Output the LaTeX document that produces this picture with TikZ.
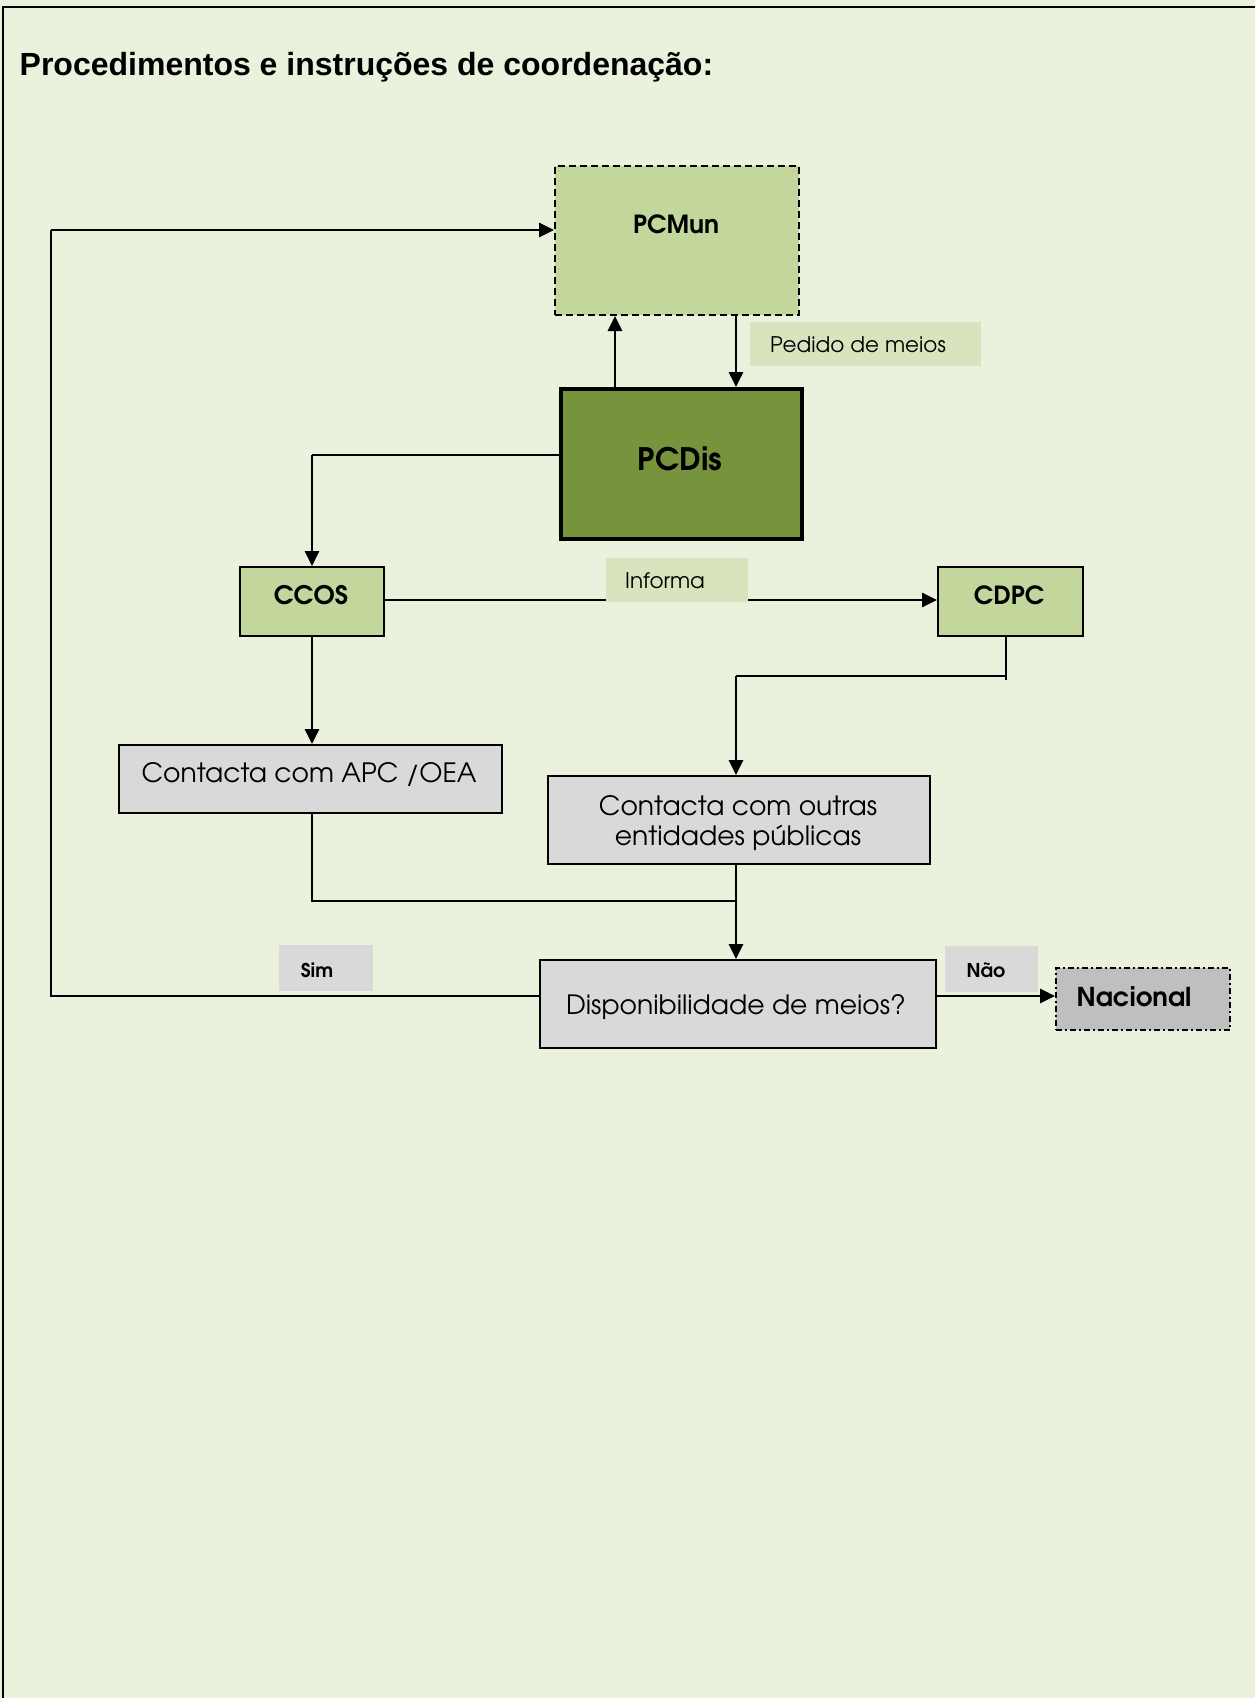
\documentclass[tikz,border=0pt]{standalone}
\usepackage{fontspec}
\usetikzlibrary{arrows.meta}
\newfontfamily\gothic{texgyreadventor}[Extension=.otf,UprightFont=*-regular,BoldFont=*-bold]
\newfontfamily\arialfont{Liberation Sans}
\definecolor{pagebg}{HTML}{EAF1DD}
\definecolor{lightolive}{HTML}{C3D69B}
\definecolor{paleolive}{HTML}{D7E4BD}
\definecolor{darkolive}{HTML}{77933C}
\definecolor{boxgrey}{HTML}{D9D9D9}
\definecolor{darkgrey}{HTML}{BFBFBF}
\newcommand{\fs}[1]{\fontsize{#1}{#1}\selectfont}
\tikzset{
  box/.style={draw=black, line width=1.8pt, inner sep=0pt, anchor=north west},
  tag/.style={fill=#1, inner sep=0pt, anchor=north west},
  txt/.style={inner sep=0pt, font=\gothic},
  thin/.style={line width=1.4pt},
  thick/.style={line width=2.9pt},
  tip/.style={-{Triangle[length=15pt,width=14pt]}},
}
\begin{document}
\begin{tikzpicture}[x=1pt,y=-1pt]
  % page and frame
  \fill[pagebg] (0,0) rectangle (1255,1698);
  \useasboundingbox (0,0) rectangle (1255,1698);
  \draw[line width=2pt] (3,1698) -- (3,6.5) -- (1255,6.5);

  \node[inner sep=0pt, anchor=west, font=\arialfont\bfseries\fs{32}] (title) at (19.5,67)
    {Procedimentos e instruções de coordenação:};

  % boxes
  \node[box, fill=lightolive, dash pattern=on 7pt off 4pt, line width=2pt,
        minimum width=244pt, minimum height=149pt] (pcmun) at (554,165) {};
  \node[txt, font=\gothic\bfseries\fs{25}] (pcmunT) at (676,224) {PCMun};

  \node[box, fill=darkolive, line width=3.5pt,
        minimum width=241pt, minimum height=150pt] (pcdis) at (559,387) {};
  \node[txt, font=\gothic\bfseries\fs{31}] (pcdisT) at (680,459) {PCDis};

  \node[tag=paleolive, minimum width=231pt, minimum height=44pt] (pedido) at (750,322) {};
  \node[txt, anchor=west, font=\gothic\fs{21.5}] (pedidoT) at (770,345) {Pedido de meios};

  \node[box, fill=lightolive, minimum width=144pt, minimum height=69pt] (ccos) at (239,566) {};
  \node[txt, font=\gothic\bfseries\fs{25.5}] (ccosT) at (311,595) {CCOS};

  \node[box, fill=lightolive, minimum width=145pt, minimum height=69pt] (cdpc) at (937,566) {};
  \node[txt, font=\gothic\bfseries\fs{25}] (cdpcT) at (1009,595) {CDPC};

  \node[box, fill=boxgrey, minimum width=383pt, minimum height=68pt] (apc) at (118,744) {};
  \node[txt, font=\gothic\fs{26.6}] (apcT) at (309,774) {Contacta com APC /OEA};

  \node[box, fill=boxgrey, minimum width=382pt, minimum height=88pt] (outras) at (547,775) {};
  \node[txt, font=\gothic\fs{26.6}] (outrasT1) at (738,806) {Contacta com outras};
  \node[txt, font=\gothic\fs{26.6}] (outrasT2) at (738,838) {entidades públicas};

  \node[box, fill=boxgrey, minimum width=396pt, minimum height=88pt] (disp) at (539,959) {};
  \node[txt, font=\gothic\fs{26.6}] (dispT) at (736,1007) {Disponibilidade de meios?};

  \node[box, fill=darkgrey, dash pattern=on 6pt off 3pt on 2pt off 3pt,
        minimum width=174pt, minimum height=62pt] (nac) at (1055,967) {};
  \node[txt, font=\gothic\bfseries\fs{26}] (nacT) at (1134,997) {Nacional};

  \node[tag=boxgrey, minimum width=94pt, minimum height=46pt] (sim) at (279,945) {};
  \node[txt, font=\gothic\bfseries\fs{19}] (simT) at (317,970) {Sim};

  \node[tag=boxgrey, minimum width=93pt, minimum height=46pt] (nao) at (945,946) {};
  \node[txt, font=\gothic\bfseries\fs{19}] (naoT) at (986,970) {Não};

  % junction points of the routed connectors
  \coordinate (dLeft) at (312,455);
  \coordinate (cdpcDown) at (1006,676);
  \coordinate (cdpcStub) at (1006,680);
  \coordinate (outrasIn) at (736,676);
  \coordinate (apcDown) at (312,901);
  \coordinate (merge) at (736,901);
  \coordinate (simCorner) at (51,996);
  \coordinate (simTop) at (51,230);

  % connectors
  \draw[thick, tip] (pcdis.north -| 615,0) -- (pcmun.south -| 615,0);
  \draw[thick, tip] (pcmun.south -| 736,0) -- (pcdis.north -| 736,0);

  \draw[thin] (pcdis.west |- dLeft) -- (dLeft);
  \draw[thick, tip] (dLeft) -- (ccos.north -| dLeft);

  \draw[thick, tip] (ccos.east |- 0,600) -- (cdpc.west |- 0,600);
  \node[tag=paleolive, minimum width=142pt, minimum height=44pt] (informa) at (606,558) {};
  \node[txt, anchor=west, font=\gothic\fs{21.5}] (informaT) at (625,581) {Informa};

  \draw[thick, tip] (ccos.south -| 312,0) -- (apc.north -| 312,0);

  \draw[thin] (cdpc.south -| cdpcStub) -- (cdpcStub);
  \draw[thin] (cdpcDown) -- (outrasIn);
  \draw[thick, tip] (outrasIn) -- (outras.north -| outrasIn);

  \draw[thin] (apc.south -| apcDown) -- (apcDown) -- (merge);
  \draw[thick, tip] (outras.south -| merge) -- (disp.north -| merge);

  \draw[thin] (disp.west |- simCorner) -- (simCorner) -- (simTop);
  \draw[thick, tip] (simTop) -- (pcmun.west |- simTop);

  \draw[thick, tip] (disp.east |- 0,996) -- (nac.west |- 0,996);
\end{tikzpicture}
\end{document}
